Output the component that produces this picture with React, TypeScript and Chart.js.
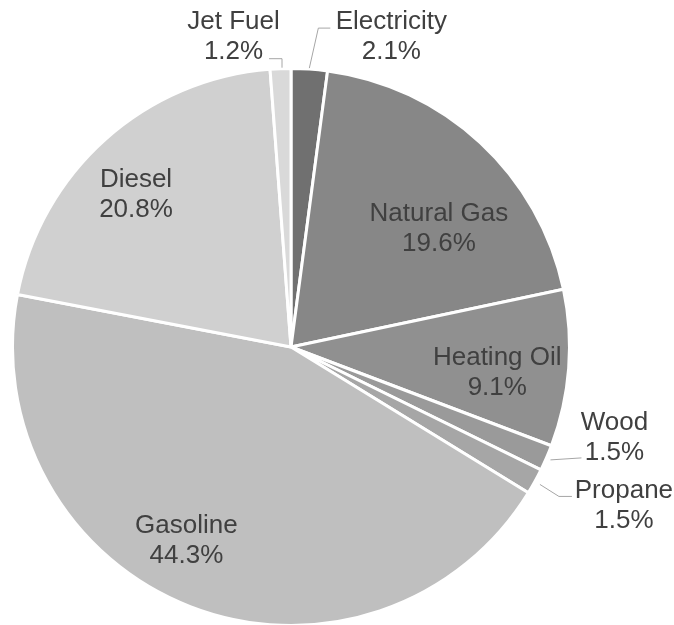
import React, { useEffect, useRef } from "react";
import { Chart, registerables } from "chart.js";

Chart.register(...registerables);

const categories = ["Electricity", "Natural Gas", "Heating Oil", "Wood", "Propane", "Gasoline", "Diesel", "Jet Fuel"];
const shares = [2.1, 19.6, 9.1, 1.5, 1.5, 44.3, 20.8, 1.2];
const percentLabels = ["2.1%", "19.6%", "9.1%", "1.5%", "1.5%", "44.3%", "20.8%", "1.2%"];

const sliceColors = ["#707070", "#878787", "#909090", "#9a9a9a", "#a6a6a6", "#bfbfbf", "#d0d0d0", "#d9d9d9"];

// label placement styles (relative to arc geometry)
type LabelSpec =
  | { kind: "inside"; dist: number; dx: number; dy: number }
  | { kind: "outside"; leader: [number, number][]; lx: number; ly: number };

const labelSpecs: LabelSpec[] = [
  { kind: "outside", leader: [[0, -1], [9, -41], [21, -41]], lx: 82, ly: -35 },
  { kind: "inside", dist: 0.75, dx: 6, dy: 33 },
  { kind: "inside", dist: 0.75, dx: -2, dy: 7 },
  { kind: "outside", leader: [[4, 2], [35, 0]], lx: 68, ly: -22 },
  { kind: "outside", leader: [[5, 3], [24, 15], [37, 15]], lx: 89, ly: 22 },
  { kind: "inside", dist: 0.75, dx: -29, dy: -3 },
  { kind: "inside", dist: 0.75, dx: -16, dy: 1 },
  { kind: "outside", leader: [[1.5, -1], [1.5, -10], [-11.5, -10]], lx: -47, ly: -34 },
];

const labelPlugin = {
  id: "pieLabels",
  afterDraw(chart: any) {
    const ctx = chart.ctx;
    const meta = chart.getDatasetMeta(0);
    ctx.save();
    ctx.font = '26px "Liberation Sans", Arial, sans-serif';
    ctx.fillStyle = "#404040";
    ctx.textAlign = "center";
    ctx.textBaseline = "alphabetic";
    meta.data.forEach((arc: any, i: number) => {
      const p = arc.getProps(["x", "y", "startAngle", "endAngle", "outerRadius"], true);
      const mid = (p.startAngle + p.endAngle) / 2;
      const spec = labelSpecs[i];
      let cx: number, cy: number;
      if (spec.kind === "inside") {
        cx = p.x + Math.cos(mid) * p.outerRadius * spec.dist + spec.dx;
        cy = p.y + Math.sin(mid) * p.outerRadius * spec.dist + spec.dy;
      } else {
        const ex = p.x + Math.cos(mid) * p.outerRadius;
        const ey = p.y + Math.sin(mid) * p.outerRadius;
        ctx.beginPath();
        ctx.strokeStyle = "#a6a6a6";
        ctx.lineWidth = 1;
        spec.leader.forEach(([lx, ly], k) => {
          if (k === 0) ctx.moveTo(ex + lx, ey + ly);
          else ctx.lineTo(ex + lx, ey + ly);
        });
        ctx.stroke();
        cx = ex + spec.lx;
        cy = ey + spec.ly;
      }
      ctx.fillText(categories[i], cx, cy - 15 + 9.5);
      ctx.fillText(percentLabels[i], cx, cy + 15 + 9.5);
    });
    ctx.restore();
  },
};

export default function App() {
  const canvasRef = useRef<HTMLCanvasElement | null>(null);
  useEffect(() => {
    if (!canvasRef.current) return;
    const chart = new Chart(canvasRef.current, {
      type: "pie",
      data: {
        labels: categories,
        datasets: [
          {
            data: shares,
            backgroundColor: sliceColors,
            borderColor: "#ffffff",
            borderWidth: 3,
          },
        ],
      },
      options: {
        animation: false,
        responsive: false,
        maintainAspectRatio: false,
        layout: { padding: { top: 67, bottom: 1, left: 11, right: 103 } },
        plugins: {
          legend: { display: false },
          tooltip: { enabled: false },
        },
      },
      plugins: [labelPlugin],
    });
    return () => chart.destroy();
  }, []);
  return (
    <div style={{ position: "fixed", left: 0, top: 0, width: 674, height: 625, overflow: "hidden", background: "#fff" }}>
      <canvas ref={canvasRef} width={674} height={628} style={{ display: "block" }} />
    </div>
  );
}
